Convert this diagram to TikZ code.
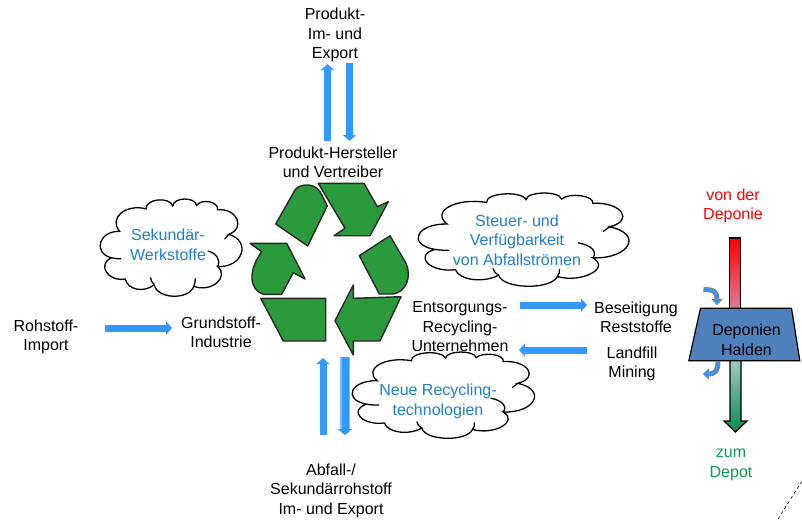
\documentclass[tikz,border=0pt]{standalone}
\usepackage{fontspec}
\setmainfont{Liberation Sans}
\usetikzlibrary{arrows.meta,shapes.geometric}
\definecolor{recycgreen}{HTML}{2A9A3C}
\definecolor{pfeilblau}{HTML}{3399FF}
\definecolor{wolkeblau}{HTML}{1F7FD0}
\definecolor{depotgreen}{HTML}{0B9A55}
\definecolor{haldeblau}{HTML}{4F81BD}
\definecolor{pinkend}{HTML}{DB7F9C}
\definecolor{tuerkisstart}{HTML}{A5CCC8}
\tikzset{
  txt/.style={align=center,inner sep=0pt,font=\fontsize{16}{19.5}\selectfont},
  wolketxt/.style={txt,text=wolkeblau},
  segment/.style={draw=black!85,line width=1.4pt,fill=recycgreen,line join=round},
  blockpfeil/.style={draw=pfeilblau,line width=7pt,-{Triangle[length=6pt,width=13pt]}},
  kleinpfeil/.style={preaction={draw=gray,line width=5pt,-{Triangle[length=6pt,width=11pt]}},
    draw=pfeilblau,line width=2.5pt,-{Triangle[length=4pt,width=7pt]}},
  wolke/.pic={
    \draw[line width=1.3pt,fill=white,looseness=1.35]
      (14,33) to[bend right=80] (8,60) to[bend right=80] (18,81.6)
      to[bend right=65] (38.8,87.4) to[bend right=80] (67,89)
      to[bend right=80] (84,69) to[bend right=80] (92,36)
      to[bend right=80] (84,11) to[bend right=80] (69,6.5)
      to[bend right=85] (52,7) to[bend right=85] (33,10)
      to[bend right=70] (14,33) -- cycle;
    \draw[line width=1.3pt]
      (8,60) to[bend right=8] (15,61)
      (38.8,87.4) to[bend left=15] (36,80)
      (67,89) to[bend right=10] (68,81)
      (77,53) to[bend left=45] (84,69)
      (92,36) -- (89,41);
  }
}
\begin{document}
\begin{tikzpicture}[x=1pt,y=-1pt]
  \useasboundingbox (0,0) rectangle (802,519);

  \pic (wsek) [xscale=1.40,yscale=0.98] at (100,199) {wolke};
  \pic (wsteu) [xscale=2.08,yscale=0.94] at (418,193) {wolke};
  \pic (wneu) [xscale=1.80,yscale=0.87] at (352,352) {wolke};

  \node[txt] (export) at (335,35) {Produkt-\\Im- und\\Export};
  \node[txt] (hersteller) at (333,162.5) {Produkt-Hersteller\\und Vertreiber};
  \node[txt] (rohstoff) at (46,337) {Rohstoff-\\Import};
  \node[txt] (grundstoff) at (221,332.5) {Grundstoff-\\Industrie};
  \node[txt] (entsorgung) at (460,327) {Entsorgungs-\\Recycling-\\Unternehmen};
  \node[txt] (beseitigung) at (636,317.5) {Beseitigung\\Reststoffe};
  \node[txt] (landfill) at (632,364) {Landfill\\Mining};
  \node[txt] (abfall) at (331,490.5) {Abfall-/\\Sekundärrohstoff\\Im- und Export};
  \node[txt,text=red] (vonder) at (733,206) {von der\\Deponie};
  \node[txt,text=depotgreen] (zumdepot) at (731,465) {zum\\Depot};
  \node[wolketxt] (sekundaer) at (168,245) {Sekundär-\\Werkstoffe};
  \node[wolketxt] (steuer) at (517,240) {Steuer- und\\Verfügbarkeit\\von Abfallströmen};
  \node[wolketxt] (neue) at (438,401.5) {Neue Recycling-\\technologien};

  \draw[segment] (275.7,224) -- (295,190) .. controls (299,184) and (314,182) .. (320,191.7)
    -- (327.3,205.7) -- (307.7,246) -- cycle;
  \draw[segment] (318.3,183.3) -- (364,183.3) -- (377.3,206.7) -- (388.3,201.7) -- (370,235.7)
    -- (334,235.7) -- (345,228.3) -- cycle;
  \draw[segment] (359.3,255.7) -- (390,235.7) -- (406,263.3) .. controls (412,277) and (406,292) .. (393.3,294)
    -- (379.3,294) -- cycle;
  \draw[segment] (401,296.7) -- (380,341) -- (353.3,341) -- (353.3,355) -- (335,320.7) -- (353.3,285)
    -- (353.3,298.3) -- cycle;
  \draw[segment] (260.7,298.3) -- (325.7,298.3) -- (325.7,341) -- (283.3,341) -- cycle;
  \draw[segment] (250,243.3) -- (286.7,243.3) -- (305,279) -- (293.3,272.7) -- (281.7,294.3) -- (263.3,294.3)
    .. controls (250,290) and (247,272) .. (261.7,251.7) -- cycle;

  \coordinate (expauf0) at (327.5,141);
  \coordinate (expauf1) at (327.5,64);
  \coordinate (expab0) at (349.5,63);
  \coordinate (expab1) at (349.5,141);
  \coordinate (abfauf0) at (323,435);
  \coordinate (abfauf1) at (323,358);
  \coordinate (abfab0) at (345,357);
  \coordinate (abfab1) at (345,435);
  \coordinate (roh0) at (105,328);
  \coordinate (roh1) at (172,328);
  \coordinate (ent0) at (520,305);
  \coordinate (ent1) at (587,305);
  \coordinate (land0) at (587,350);
  \coordinate (land1) at (519,350);
  \begin{scope}[blockpfeil]
    \draw (expauf0) -- (expauf1);
    \draw (expab0) -- (expab1);
    \draw (abfauf0) -- (abfauf1);
    \draw[preaction={draw=pfeilblau!65,line width=10pt,-{Triangle[length=6pt,width=15pt]}}] (abfab0) -- (abfab1);
    \draw (roh0) -- (roh1);
    \draw (ent0) -- (ent1);
    \draw (land0) -- (land1);
  \end{scope}

  \path[draw=black,line width=1.2pt,top color=red,bottom color=pinkend]
    (729.5,238) rectangle (740.5,310);
  \path[draw=black,line width=1.2pt,top color=tuerkisstart,bottom color=depotgreen!90!black,line join=miter]
    (730,358) -- (741,358) -- (741,421) -- (747,421) -- (735.5,432) -- (724,421) -- (730,421) -- cycle;

  \node[trapezium,trapezium stretches=true,trapezium left angle=83,trapezium right angle=85,
    minimum width=111pt,minimum height=52.5pt,inner sep=1pt,draw=black,line width=1.2pt,fill=haldeblau]
    (halde) at (746,334.5) {\phantom{x}};
  \node[txt] (deptxt) at (746.5,340) {Deponien\\Halden};

  \coordinate (klein0) at (703.5,289.5);
  \coordinate (klein1) at (717,305);
  \coordinate (klein2) at (718,361);
  \coordinate (klein3) at (703,374);
  \draw[kleinpfeil] (klein0) .. controls (713,289.5) and (717,291) .. (klein1);
  \draw[kleinpfeil] (klein2) .. controls (718,372) and (714,374) .. (klein3);

  \coordinate (strich0) at (802,481);
  \coordinate (strich1) at (778,519);
  \draw[dashed,line width=0.6pt] (strich0) -- (strich1);
\end{tikzpicture}
\end{document}
